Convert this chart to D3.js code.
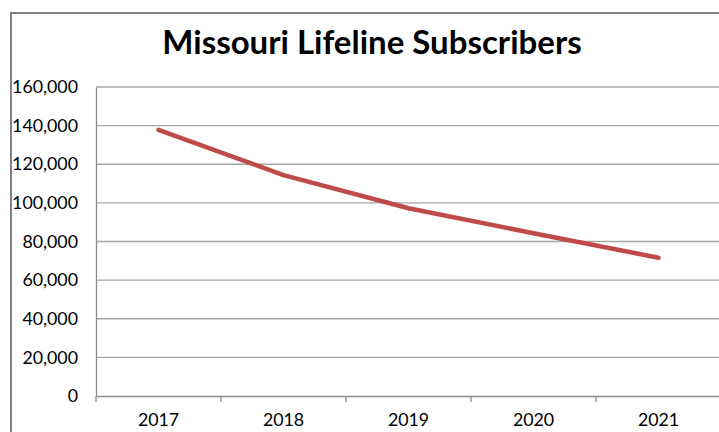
<!DOCTYPE html>
<html><head><meta charset="utf-8">
<script src="https://cdn.jsdelivr.net/npm/d3@7"></script>
<style>body{margin:0;background:#fff}svg{display:block}</style>
</head><body>
<script>
const years = ["2017","2018","2019","2020","2021"];
const subscribers = [137800, 114400, 97200, 84300, 71600];
const yTicks = [0,20000,40000,60000,80000,100000,120000,140000,160000];
const title = "Missouri Lifeline Subscribers";

(function(){
const W = 719, H = 432;
const svg = d3.select("body").append("svg").attr("width", W).attr("height", H);
const font = "Lato, 'Open Sans', sans-serif";

// outer chart border (left and top visible)
svg.append("path").attr("d", `M11,${H} V13 H${W}`).attr("fill","none")
  .attr("stroke","#5a5a5a").attr("stroke-width",1.5);

const pL = 96, pR = 721, pT = 87, pB = 396;
const x = d3.scaleBand().domain(years).range([pL, pR]);
const y = d3.scaleLinear().domain([0,160000]).range([pB, pT]);

// gridlines
svg.append("g").selectAll("line").data(yTicks.filter(d=>d>0)).join("line")
  .attr("x1", pL).attr("x2", pR).attr("y1", d=>y(d)).attr("y2", d=>y(d))
  .attr("stroke","#a6a6a6").attr("stroke-width",1.3);

// y axis
const yAxis = svg.append("g").attr("transform",`translate(${pL},0)`)
  .call(d3.axisLeft(y).tickValues(yTicks).tickSize(0).tickPadding(18)
    .tickFormat(d3.format(",")));
yAxis.select(".domain").attr("stroke","#8c8c8c").attr("stroke-width",1.3);
yAxis.selectAll("text").attr("font-family",font).attr("font-size",17.8).attr("fill","#000");

// x axis
const xAxis = svg.append("g").attr("transform",`translate(0,${pB})`)
  .call(d3.axisBottom(x).tickSize(0).tickPadding(17));
xAxis.select(".domain").attr("stroke","#8c8c8c").attr("stroke-width",1.3);
xAxis.selectAll("text").attr("font-family",font).attr("font-size",17.8).attr("fill","#000");
// tick marks between categories
svg.append("g").selectAll("line").data(years).join("line")
  .attr("x1", d=>x(d)).attr("x2", d=>x(d)).attr("y1", pB).attr("y2", pB+6)
  .attr("stroke","#8c8c8c").attr("stroke-width",1.3);

// line
const line = d3.line().x((d,i)=>x(years[i])+x.bandwidth()/2).y(d=>y(d));
svg.append("path").datum(subscribers).attr("d", line).attr("fill","none")
  .attr("stroke","#be4b48").attr("stroke-width",4.5).attr("stroke-linecap","round")
  .attr("stroke-linejoin","round");

// title
svg.append("text").attr("x", 372).attr("y", 54).attr("text-anchor","middle")
  .attr("font-family",font).attr("font-weight","bold").attr("font-size",33)
  .attr("fill","#000").text(title);
})();
</script>
</body></html>
